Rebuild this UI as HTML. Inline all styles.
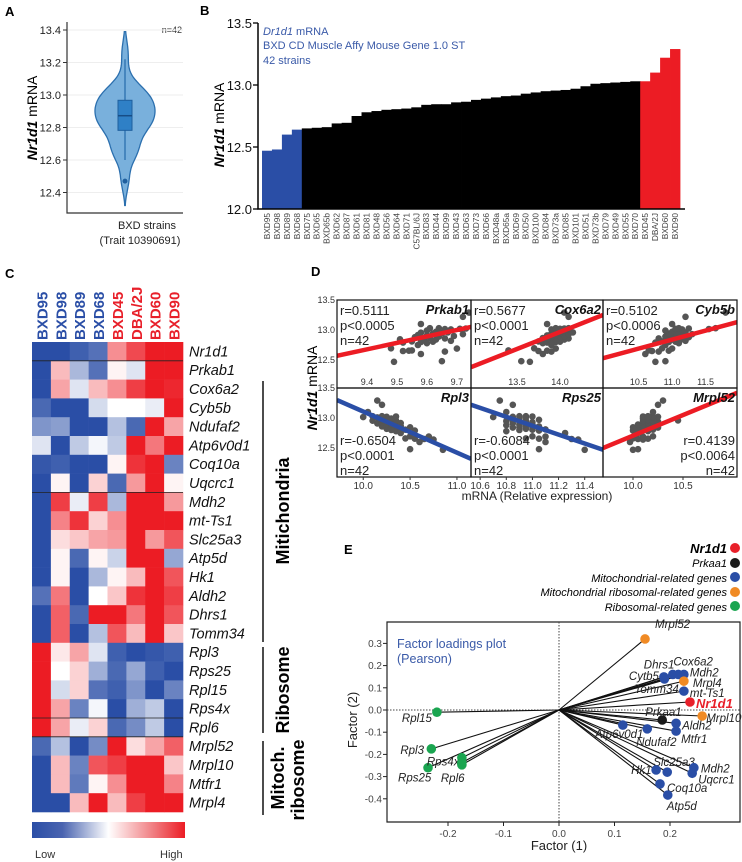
<!DOCTYPE html>
<html><head><meta charset="utf-8">
<style>
html,body{margin:0;padding:0;background:#fff;}
svg{display:block;font-family:"Liberation Sans",Arial,sans-serif;}
</style></head>
<body>
<svg id="fig" width="742" height="862" viewBox="0 0 742 862">
<text x="5" y="16" font-size="13" font-weight="bold">A</text>
<text x="200" y="15" font-size="13" font-weight="bold">B</text>
<text x="5" y="278" font-size="13" font-weight="bold">C</text>
<text x="311" y="276" font-size="13" font-weight="bold">D</text>
<text x="344" y="554" font-size="13" font-weight="bold">E</text>

<g id="pa">
<text transform="translate(37,118) rotate(-90)" text-anchor="middle" font-size="14"><tspan font-style="italic" font-weight="bold">Nr1d1</tspan> mRNA</text>
<text x="182" y="33" text-anchor="end" font-size="9" fill="#333">n=42</text>
<text x="147" y="229" text-anchor="middle" font-size="11" fill="#222">BXD strains</text>
<text x="140" y="244" text-anchor="middle" font-size="11" fill="#222">(Trait 10390691)</text>
</g>

<g id="pb">
<text transform="translate(224,125) rotate(-90)" text-anchor="middle" font-size="14"><tspan font-style="italic" font-weight="bold">Nr1d1</tspan> mRNA</text>
<text x="263" y="35" font-size="11" fill="#3a5aa8"><tspan font-style="italic">Dr1d1</tspan> mRNA</text>
<text x="263" y="49" font-size="11" fill="#3a5aa8">BXD CD Muscle Affy Mouse Gene 1.0 ST</text>
<text x="263" y="64" font-size="11" fill="#3a5aa8">42 strains</text>
</g>

<g id="pc">
<line x1="263" y1="381" x2="263" y2="642" stroke="#111" stroke-width="1.5"/>
<text transform="translate(289,511) rotate(-90)" text-anchor="middle" font-size="18" font-weight="bold">Mitichondria</text>
<line x1="263" y1="647" x2="263" y2="733" stroke="#111" stroke-width="1.5"/>
<text transform="translate(289,690) rotate(-90)" text-anchor="middle" font-size="18" font-weight="bold">Ribosome</text>
<line x1="263" y1="741" x2="263" y2="815" stroke="#111" stroke-width="1.5"/>
<text transform="translate(284,778) rotate(-90)" text-anchor="middle" font-size="18" font-weight="bold">Mitoch.</text>
<text transform="translate(304,780) rotate(-90)" text-anchor="middle" font-size="18" font-weight="bold">ribosome</text>
<defs><linearGradient id="cbar" x1="0" x2="1" y1="0" y2="0">
<stop offset="0" stop-color="#2a4ea6"/><stop offset="0.2" stop-color="#4a64b0"/><stop offset="0.5" stop-color="#ffffff"/><stop offset="0.8" stop-color="#f07a7e"/><stop offset="1" stop-color="#ec1c24"/></linearGradient></defs>
<rect x="32" y="822" width="153" height="16" fill="url(#cbar)"/>
<text x="35" y="858" font-size="11" fill="#333">Low</text>
<text x="160" y="858" font-size="11" fill="#333">High</text>
</g>

<g id="pd">
<text transform="translate(317,388) rotate(-90)" text-anchor="middle" font-size="14"><tspan font-style="italic" font-weight="bold">Nr1d1</tspan> mRNA</text>
<text x="537" y="500" text-anchor="middle" font-size="12" fill="#222">mRNA (Relative expression)</text>
</g>

<g id="pe">
<text transform="translate(357,720) rotate(-90)" text-anchor="middle" font-size="13" fill="#222">Factor (2)</text>
<text x="559" y="850" text-anchor="middle" font-size="13" fill="#222">Factor (1)</text>
<text x="397" y="648" font-size="12.5" fill="#3a5aa8">Factor loadings plot</text>
<text x="397" y="663" font-size="12.5" fill="#3a5aa8">(Pearson)</text>
<g>
<text x="727" y="553" text-anchor="end" font-size="13" font-style="italic" font-weight="bold">Nr1d1</text>
<circle cx="735" cy="548" r="5" fill="#e8202a"/>
<text x="727" y="567" text-anchor="end" font-size="11" font-style="italic">Prkaa1</text>
<circle cx="735" cy="563" r="5" fill="#1a1a1a"/>
<text x="727" y="582" text-anchor="end" font-size="11" font-style="italic">Mitochondrial-related genes</text>
<circle cx="735" cy="577" r="5" fill="#2a4ea6"/>
<text x="727" y="596" text-anchor="end" font-size="11" font-style="italic">Mitochondrial ribosomal-related genes</text>
<circle cx="735" cy="592" r="5" fill="#f08a24"/>
<text x="727" y="611" text-anchor="end" font-size="11" font-style="italic">Ribosomal-related genes</text>
<circle cx="735" cy="606" r="5" fill="#1aa550"/>
</g>
</g>
</svg>

<script>
const bStrains=["BXD95","BXD98","BXD89","BXD68","BXD75","BXD65","BXD65b","BXD62","BXD87","BXD61","BXD81","BXD48","BXD56","BXD64","BXD71","C57BL/6J","BXD83","BXD44","BXD99","BXD43","BXD63","BXD73","BXD66","BXD48a","BXD65a","BXD69","BXD50","BXD100","BXD84","BXD73a","BXD85","BXD101","BXD51","BXD73b","BXD79","BXD49","BXD55","BXD70","BXD45","DBA/2J","BXD60","BXD90"];
const bValues=[12.47,12.48,12.6,12.64,12.65,12.655,12.66,12.69,12.695,12.75,12.78,12.79,12.8,12.805,12.81,12.82,12.84,12.845,12.845,12.86,12.865,12.88,12.89,12.9,12.91,12.915,12.93,12.94,12.95,12.955,12.96,12.97,12.99,13.01,13.015,13.02,13.025,13.03,13.03,13.1,13.22,13.29];
const bTicks=[12.0,12.5,13.0,13.5];
const aTicks=[12.4,12.6,12.8,13.0,13.2,13.4];

const hmStrains=["BXD95","BXD98","BXD89","BXD68","BXD45","DBA/2J","BXD60","BXD90"];
const hmGenes=["Nr1d1","Prkab1","Cox6a2","Cyb5b","Ndufaf2","Atp6v0d1","Coq10a","Uqcrc1","Mdh2","mt-Ts1","Slc25a3","Atp5d","Hk1","Aldh2","Dhrs1","Tomm34","Rpl3","Rps25","Rpl15","Rps4x","Rpl6","Mrpl52","Mrpl10","Mtfr1","Mrpl4"];
const hmValues=[
[-1,-1,-0.9,-0.8,0.5,0.8,1,1],
[-1,0.3,-0.4,-0.8,0.05,-0.15,1,1],
[-1,0.4,-0.15,0.3,0.5,0.85,1,0.95],
[-0.85,-1,-1,-0.2,0,0,-0.1,1],
[-0.6,-0.55,-1,-1,-0.35,-0.85,1,0.4],
[-0.15,-1,-0.3,-0.05,-0.3,1,0.6,1],
[-0.95,-0.9,-1,-1,0.05,0.9,1,-0.7],
[-1,0.05,-1,0.2,-0.85,0.45,1,0.05],
[-1,0.85,-0.1,0.85,-0.4,1,1,0.45],
[-1,0.55,0.9,0.2,0.5,1,1,1],
[-1,0.15,0.25,0.4,0.45,1,0.45,0.75],
[-1,0.05,-0.85,0.05,-0.25,1,1,-0.5],
[-1,0.05,-1,-0.4,0.05,0.3,1,0.75],
[-0.8,0.6,-1,0,0.25,0.9,1,0.85],
[-1,0.7,-0.85,1,1,0.6,1,0.75],
[-1,0.7,-1,-0.35,0.75,0.3,1,0.25],
[1,0.1,0.4,-0.15,-0.9,-1,-0.95,-0.9],
[1,0,0.2,-0.45,-0.85,-0.5,-0.9,-1],
[1,-0.2,0.2,-0.8,-0.9,-0.6,-1,-0.7],
[1,0.4,-0.7,-0.05,-1,-0.45,-0.3,-1],
[1,0.4,-0.1,0.2,-0.85,-0.65,-0.3,-1],
[-0.85,-0.35,-1,-0.65,1,0.15,0.4,0.7],
[-1,0.3,-0.7,0.75,0.85,1,1,0.25],
[-1,0.3,-0.75,0.05,0.5,1,1,0.55],
[-1,-1,0.3,1,0.3,0.85,1,1]];
const hmSeparators=[1,8,20,21];

const dGenes=["Prkab1","Cox6a2","Cyb5b","Rpl3","Rps25","Mrpl52"];
const dR=["0.5111","0.5677","0.5102","-0.6504","-0.6084","0.4139"];
const dP=["0.0005","0.0001","0.0006","0.0001","0.0001","0.0064"];
const dX0=[9.49,9.65,9.58,9.66,9.52,9.54,9.55,9.70,9.48,9.57,9.60,9.52,9.58,9.62,9.55,9.68,9.63,9.59,9.51,9.66,9.61,9.56,9.64,9.69,9.60,9.57,9.72,9.62,9.65,9.58,9.67,9.63,9.60,9.68,9.66,9.71,9.73,9.61,9.64,9.58,9.72,9.74];
const dX1=[13.65,13.55,13.8,13.9,13.75,13.85,13.4,13.95,13.7,13.9,13.8,13.85,13.95,14.0,13.75,13.9,14.05,13.85,13.95,14.1,13.8,13.9,14.0,14.05,13.85,13.95,14.1,13.9,14.0,13.95,14.15,14.0,14.05,13.9,14.1,14.0,14.05,13.95,14.1,13.85,14.1,14.05];
const dX2=[10.75,10.9,10.6,10.8,10.7,10.95,10.65,11.0,10.85,10.9,11.1,10.75,10.95,11.05,10.85,11.2,11.0,10.95,11.15,10.8,11.05,11.25,10.9,11.1,11.0,11.15,11.3,10.95,11.05,11.1,11.2,11.0,10.9,11.15,11.55,11.05,11.25,11.1,11.65,11.0,11.2,11.8];
const dX3=[10.85,10.5,10.6,10.75,10.65,10.55,10.45,10.7,10.5,10.4,10.35,10.55,10.3,10.45,10.4,10.25,10.35,10.5,10.3,10.2,10.4,10.35,10.25,10.3,10.15,10.4,10.2,10.3,10.25,10.1,10.35,10.2,10.3,10.15,10.0,10.25,10.35,10.1,10.2,10.05,10.2,10.15];
const dX4=[11.4,11.05,11.1,11.35,11.3,11.05,10.95,11.1,11.0,11.25,10.8,11.05,10.9,11.0,11.1,10.95,10.85,11.0,10.9,11.05,10.95,10.8,10.9,11.0,10.85,10.95,11.0,10.9,10.8,10.95,10.85,11.05,10.9,10.95,10.7,10.85,11.0,10.9,10.95,10.8,10.85,10.75];
const dX5=[10.0,10.05,9.97,10.1,10.05,10.15,10.0,10.1,10.2,10.05,10.15,10.0,10.1,10.2,10.05,10.15,10.25,10.1,10.0,10.15,10.2,10.1,10.05,10.15,10.2,10.1,10.15,10.25,10.1,10.2,10.45,10.15,10.1,10.2,10.15,10.25,10.1,10.2,10.15,10.2,10.25,10.3];
const dFitLeft=[12.57,12.38,12.53,13.3,13.22,12.5];
const dFitRight=[13.05,13.25,13.13,12.32,12.47,13.42];
const dTicks0=[9.4,9.5,9.6,9.7];
const dTicks1=[13.5,14.0];
const dTicks2=[10.5,11.0,11.5];
const dTicks3=[10.0,10.5,11.0];
const dTicks4=[10.6,10.8,11.0,11.2,11.4];
const dTicks5=[10.0,10.5];
const dYTicks=[12.5,13.0,13.5];

const eGenes=["Mrpl52","Dhrs1","Cox6a2","Mdh2","Cytb5","Tomm34","Mrpl4","mt-Ts1","Nr1d1","Mrpl10","Prkaa1","Aldh2","Mtfr1","Atp6v0d1","Ndufaf2","Slc25a3","Hk1","Mdh2","Uqcrc1","Coq10a","Atp5d","Rpl15","Rpl3","Rps25","Rps4x","Rpl6","Rpl6b"];
const eF1=[0.155,0.205,0.215,0.225,0.189,0.19,0.225,0.225,0.236,0.258,0.186,0.211,0.211,0.115,0.159,0.195,0.175,0.243,0.24,0.182,0.196,-0.22,-0.23,-0.236,-0.175,-0.175,-0.175];
const eF2=[0.32,0.16,0.16,0.16,0.149,0.14,0.13,0.085,0.036,-0.027,-0.045,-0.06,-0.095,-0.068,-0.085,-0.28,-0.27,-0.26,-0.285,-0.333,-0.383,-0.01,-0.175,-0.26,-0.215,-0.247,-0.237];
const eGroup=["mr","m","m","m","m","m","mr","m","n","mr","p","m","m","m","m","m","m","m","m","m","m","r","r","r","r","r","r"];
const eXTicks=[-0.2,-0.1,0.0,0.1,0.2];
const eYTicks=[-0.4,-0.3,-0.2,-0.1,0.0,0.1,0.2,0.3];
const eLabelDx=[10,-29,-5,6,-35,-30,9,6,6,4,-17,6,5,-28,-11,-14,-25,7,6,7,-1,-35,-31,-30,-35,-21,0];
const eLabelDy=[-11,-6,-9,2,3,14,6,6,6,6,-4,6,12,13,17,-6,4,5,10,8,15,10,5,14,8,17,0];

const svg=document.getElementById('fig');
const NS='http://www.w3.org/2000/svg';
function mk(tag,attrs,parent){const e=document.createElementNS(NS,tag);for(const k in attrs)e.setAttribute(k,attrs[k]);(parent||svg).appendChild(e);return e;}
const eLabelShown=eGenes.map(g=>g!=="Rpl6b");

(function(){
const g=document.getElementById('pa');
const aY=v=>95-(v-13.0)*162.5;
aTicks.forEach(t=>{
 const gl=mk('line',{x1:68,x2:183,y1:aY(t),y2:aY(t),stroke:'#eee','stroke-width':1},g);
 
 
 const tk=mk('line',{x1:63,x2:67,y1:aY(t),y2:aY(t),stroke:'#333'},g);
 
 
 const tl=mk('text',{x:61,y:aY(t)+4,'text-anchor':'end','font-size':11,fill:'#222'},g);
 tl.textContent=t.toFixed(1);
 
 
});
const ax=mk('path',{d:'M67 22 V213 H183',fill:'none',stroke:'#333','stroke-width':1.2},g);


const vals=bValues.slice().sort((a,b)=>a-b);
const bw=0.07, lo=vals[0]-0.15, hi=vals[vals.length-1]+0.1;
const steps=80, dens=[];
for(let i=0;i<=steps;i++){const v=lo+(hi-lo)*i/steps;let s=0;vals.forEach(x=>{s+=Math.exp(-0.5*((v-x)/bw)**2);});dens.push([v,s]);}
const mx=Math.max(...dens.map(d=>d[1]));
const cx=125, W=30;
let d='';dens.forEach((p,i)=>{d+=(i?'L':'M')+(cx+p[1]/mx*W).toFixed(1)+' '+aY(p[0]).toFixed(1);});
for(let i=dens.length-1;i>=0;i--){d+='L'+(cx-dens[i][1]/mx*W).toFixed(1)+' '+aY(dens[i][0]).toFixed(1);}
const vio=mk('path',{d:d+'Z',fill:'#79b0dc',stroke:'#2b6fae','stroke-width':1.3},g);


const q=p=>{const pos=(vals.length-1)*p,b=Math.floor(pos),r=pos-b;return vals[b]+(vals[b+1]!==undefined?(vals[b+1]-vals[b])*r:0);};
const q1=q(0.25),q3=q(0.75),med=q(0.5),iqr=q3-q1;
const lw=Math.min(...vals.filter(v=>v>=q1-1.5*iqr)), hw=Math.max(...vals.filter(v=>v<=q3+1.5*iqr));
const wh=mk('line',{x1:cx,x2:cx,y1:aY(hw),y2:aY(lw),stroke:'#2b6fae','stroke-width':1.3},g);


const bx=mk('rect',{x:cx-7,y:aY(q3),width:14,height:aY(q1)-aY(q3),fill:'#2f80c6',stroke:'#1f5f9e','stroke-width':1},g);


const md=mk('line',{x1:cx-7,x2:cx+7,y1:aY(med),y2:aY(med),stroke:'#174d86','stroke-width':1.5},g);


vals.filter(v=>v<q1-1.5*iqr||v>q3+1.5*iqr).slice(0,1).forEach(v=>{
 const o=mk('circle',{cx:cx,cy:aY(v),r:2.5,fill:'#1f5f9e'},g);
 
 
});
})();

(function(){
const g=document.getElementById('pb');
const bY=v=>209-(v-12)*124;
const x0=262, bw=(680-262)/bStrains.length;
bValues.forEach((v,i)=>{
 const col=i<4?'#2a4ea6':(i>=bValues.length-4?'#ec1c24':'#000');
 const r=mk('rect',{x:(x0+i*bw).toFixed(2),y:bY(v).toFixed(2),width:(bw+0.4).toFixed(2),height:(209-bY(v)).toFixed(2),fill:col},g);
 
 
 const t=mk('text',{transform:`translate(${(x0+(i+0.5)*bw+3).toFixed(1)},213) rotate(-90)`,'text-anchor':'end','font-size':8.3,fill:'#444'},g);
 t.textContent=bStrains[i];
 
 
});
const ax=mk('path',{d:'M258 23 V209 H685',fill:'none',stroke:'#000','stroke-width':1.5},g);


bTicks.forEach(t=>{
 const tk=mk('line',{x1:253,x2:258,y1:bY(t),y2:bY(t),stroke:'#000','stroke-width':1.3},g);
 
 
 const tl=mk('text',{x:252,y:bY(t)+5,'text-anchor':'end','font-size':13,fill:'#111'},g);
 tl.textContent=t.toFixed(1);
 
 
});
})();

(function(){
const g=document.getElementById('pc');
const x0=32, cw=151/8, y0=342, rh=18.8;
const blue=[42,78,166], red=[236,28,36];
const col=v=>{const c=v<0?blue:red,a=Math.min(1,Math.abs(v));return `rgb(${Math.round(255+(c[0]-255)*a)},${Math.round(255+(c[1]-255)*a)},${Math.round(255+(c[2]-255)*a)})`;};
hmValues.forEach((row,i)=>{
 row.forEach((v,j)=>{
  const c=mk('rect',{x:(x0+j*cw).toFixed(2),y:(y0+i*rh).toFixed(2),width:(cw+0.3).toFixed(2),height:(rh+0.3).toFixed(2),fill:col(v)},g);
  
  
 });
 const t=mk('text',{x:189,y:(y0+i*rh+rh/2+5).toFixed(1),'font-size':14.5,'font-style':'italic',fill:'#111'},g);
 t.textContent=hmGenes[i];
 
 
});
hmSeparators.forEach(s=>{
 const l=mk('line',{x1:x0,x2:x0+151,y1:y0+s*rh,y2:y0+s*rh,stroke:'#222','stroke-width':0.8},g);
 
 
});
hmStrains.forEach((s,j)=>{
 const t=mk('text',{transform:`translate(${(x0+(j+0.5)*cw+6).toFixed(1)},340) rotate(-90)`,'font-size':15,'font-weight':'bold',fill:j<4?'#2a4ea6':'#e8202a'},g);
 t.textContent=s;
 
 
});
})();

(function(){
const g=document.getElementById('pd');
const xs=[dX0,dX1,dX2,dX3,dX4,dX5];
const ticks=[dTicks0,dTicks1,dTicks2,dTicks3,dTicks4,dTicks5];
const doms=[[9.3,9.747],[12.965,14.5],[9.967,11.97],[9.72,11.15],[10.53,11.54],[9.7,11.04]];
const cols=[337,471,603,737], rows=[300,388,477];
dGenes.forEach((gene,p)=>{
 const ci=p%3, ri=Math.floor(p/3);
 const L=cols[ci],R=cols[ci+1],T=rows[ri],B=rows[ri+1];
 const xS=v=>L+(v-doms[p][0])/(doms[p][1]-doms[p][0])*(R-L);
 const yS=v=>T+(13.5-v)*60;
 const clip='clip'+p;
 const cp=mk('clipPath',{id:clip},g);
 mk('rect',{x:L,y:T,width:R-L,height:B-T},cp);
 const pts=mk('g',{'clip-path':`url(#${clip})`},g);
 
 
 xs[p].forEach((xv,i)=>{
  const c=mk('circle',{cx:xS(xv).toFixed(1),cy:yS(bValues[i]).toFixed(1),r:3.3,fill:'#555'},pts);
  
  
 });
 const fl=mk('line',{x1:L,x2:R,y1:yS(dFitLeft[p]),y2:yS(dFitRight[p]),stroke:p===3||p===4?'#2a4ea6':'#ec1c24','stroke-width':4.5},pts);
 
 
 const bo=mk('rect',{x:L,y:T,width:R-L,height:B-T,fill:'none',stroke:'#111','stroke-width':1.2},g);
 
 
 const gl=mk('text',{x:R-2,y:T+14,'text-anchor':'end','font-size':13,'font-weight':'bold','font-style':'italic',fill:'#111'},g);
 gl.textContent=gene;
 
 
 const lines=['r='+dR[p],'p<'+dP[p],'n=42'];
 lines.forEach((s,k)=>{
  let x=L+3,y,anchor='start';
  if(ri===0) y=T+15+k*15;
  else if(p===5){x=R-2;anchor='end';y=B-32+k*15;}
  else y=B-32+k*15;
  const t=mk('text',{x:x,y:y,'text-anchor':anchor,'font-size':13,fill:'#222'},g);
  t.textContent=s;
  
  
 });
 ticks[p].forEach(t=>{
  const ty=ri===0?B-3:B+12;
  const tl=mk('text',{x:xS(t),y:ty,'text-anchor':'middle','font-size':ri===0?9:10,fill:'#333'},g);
  tl.textContent=t.toFixed(1);
  
  
  if(ri===1){
   const tk=mk('line',{x1:xS(t),x2:xS(t),y1:B,y2:B+3,stroke:'#333'},g);
   
   
  }
 });
 if(ci===0){
  dYTicks.forEach(t=>{
   const tl=mk('text',{x:L-2,y:yS(t)+3,'text-anchor':'end','font-size':9,fill:'#333'},g);
   tl.textContent=t.toFixed(1);
   
   
  });
 }
});
})();

(function(){
const g=document.getElementById('pe');
const L=387,R=740,T=622,B=822;
const xS=v=>559+v*555;
const yS=v=>710-v*222;
const colors={m:'#2a4ea6',mr:'#f08a24',r:'#1aa550',n:'#e8202a',p:'#1a1a1a'};
const fr=mk('path',{d:`M${L} ${T} H${R} V${B} H${L} Z`,fill:'none',stroke:'#222','stroke-width':1.2},g);


const vx=mk('line',{x1:xS(0),x2:xS(0),y1:T,y2:B,stroke:'#444','stroke-width':1,'stroke-dasharray':'1.5,1.5'},g);


const hz=mk('line',{x1:L,x2:R,y1:yS(0),y2:yS(0),stroke:'#444','stroke-width':1,'stroke-dasharray':'1.5,1.5'},g);


eXTicks.forEach(t=>{
 const tk=mk('line',{x1:xS(t),x2:xS(t),y1:B,y2:B+4,stroke:'#222'},g);
 
 
 const tl=mk('text',{x:xS(t),y:B+15,'text-anchor':'middle','font-size':10,fill:'#444'},g);
 tl.textContent=t.toFixed(1);
 
 
});
eYTicks.forEach(t=>{
 const tk=mk('line',{x1:L-4,x2:L,y1:yS(t),y2:yS(t),stroke:'#222'},g);
 
 
 const tl=mk('text',{x:L-5,y:yS(t)+3.5,'text-anchor':'end','font-size':10,fill:'#444'},g);
 tl.textContent=t.toFixed(1);
 
 
});
eGenes.forEach((gene,i)=>{
 const l=mk('line',{x1:xS(0),y1:yS(0),x2:xS(eF1[i]),y2:yS(eF2[i]),stroke:'#111','stroke-width':1.1},g);
 
 
});
eGenes.forEach((gene,i)=>{
 const c=mk('circle',{cx:xS(eF1[i]),cy:yS(eF2[i]),r:4.8,fill:colors[eGroup[i]]},g);
 
 
 if(eLabelShown[i]){
  const isN=eGroup[i]==='n';
  const t=mk('text',{x:xS(eF1[i])+eLabelDx[i],y:yS(eF2[i])+eLabelDy[i],'font-size':isN?13:11.5,'font-style':'italic','font-weight':isN?'bold':'normal',fill:isN?'#e8202a':'#222'},g);
  t.textContent=gene;
  
  
 }
});
})();
</script>
</body></html>
